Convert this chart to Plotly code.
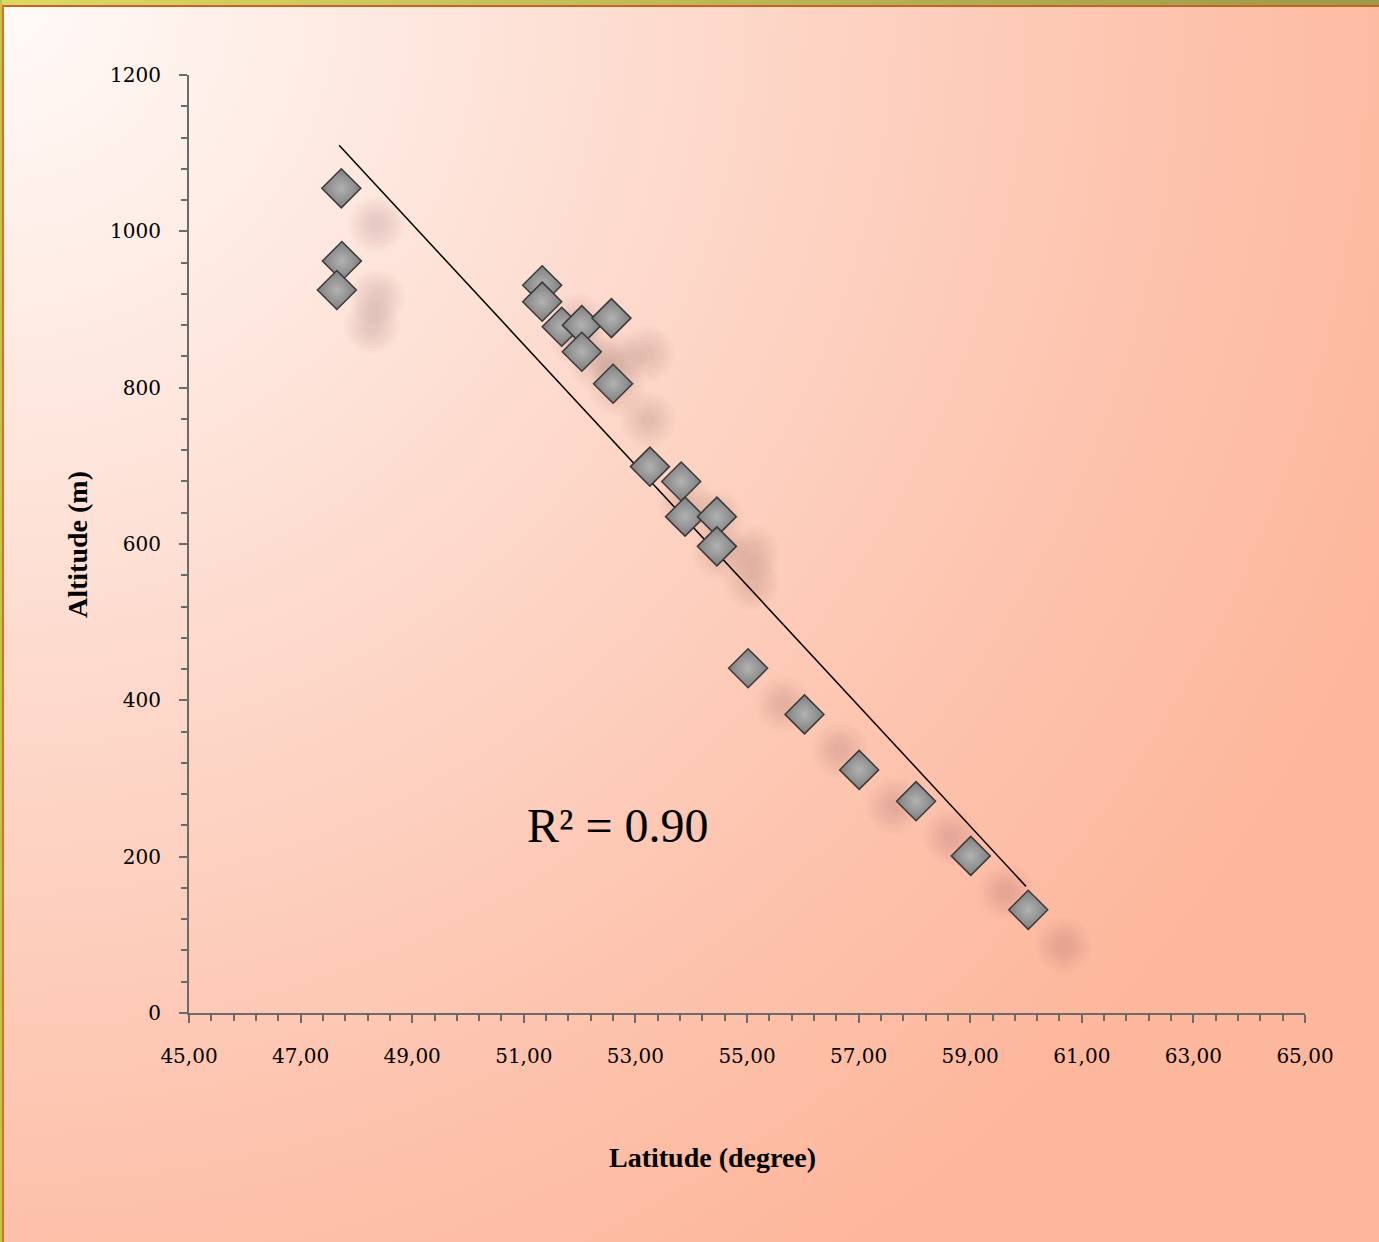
import base64
import numpy as np
import plotly.graph_objects as go

# ---- data ----
latitude = [47.73, 47.74, 47.65, 51.33, 51.33, 51.68, 52.04, 52.57, 52.04, 52.60,
            53.26, 53.82, 53.89, 54.46, 54.46, 55.02, 56.03, 57.01, 58.03, 59.01, 60.04]
altitude = [1055, 962, 925, 931, 910, 878, 880, 889, 846, 805,
            699, 680, 635, 635, 597, 441, 382, 311, 271, 201, 132]
trend_lat = [47.69, 60.0]
trend_alt = [1110, 162]
r2_text = "R² = 0.90"
x_tickvals = [45, 47, 49, 51, 53, 55, 57, 59, 61, 63, 65]
x_ticktext = ["45,00", "47,00", "49,00", "51,00", "53,00", "55,00",
              "57,00", "59,00", "61,00", "63,00", "65,00"]
y_tickvals = [0, 200, 400, 600, 800, 1000, 1200]

W, H = 1379, 1242
ML, MR, MT, MB = 189, 74, 75, 229
PW, PH = W - ML - MR, H - MT - MB

# background gradient + frame as an svg image
svg = f'''<svg xmlns="http://www.w3.org/2000/svg" width="{W}" height="{H}" viewBox="0 0 {W} {H}" preserveAspectRatio="none">
<defs>
<radialGradient id="g" cx="0" cy="0" r="1500" gradientUnits="userSpaceOnUse">
<stop offset="0" stop-color="#fffaf8"/>
<stop offset="0.25" stop-color="#fee9e1"/>
<stop offset="0.55" stop-color="#fdd3c3"/>
<stop offset="0.8" stop-color="#fdc2ac"/>
<stop offset="1" stop-color="#fdb79c"/>
</radialGradient>
<linearGradient id="b" x1="0" y1="0" x2="1" y2="0">
<stop offset="0" stop-color="#dcd862"/>
<stop offset="1" stop-color="#9c9a4a"/>
</linearGradient>
</defs>
<rect x="0" y="0" width="{W}" height="{H}" fill="url(#g)"/>
<rect x="0" y="0" width="{W}" height="5" fill="url(#b)"/>
<rect x="0" y="5" width="{W}" height="2" fill="#c9631f"/>
<rect x="0" y="0" width="2" height="{H}" fill="#c9c050"/>
<rect x="2" y="5" width="2" height="{H}" fill="#d4702a"/>
</svg>'''
src = "data:image/svg+xml;base64," + base64.b64encode(svg.encode()).decode()

fig = go.Figure()

# soft shadows (derived from the data, offset down-right), layered to look blurred
lat_arr = np.array(latitude)
alt_arr = np.array(altitude)
for s in [56, 50, 44, 38, 32, 26, 20, 14]:
    fig.add_trace(go.Scatter(
        x=lat_arr + 0.63, y=alt_arr - 46, mode="markers", hoverinfo="skip",
        marker=dict(symbol="circle", size=s, color="rgba(120,75,65,0.022)",
                    line=dict(width=0)),
        showlegend=False))

# trend line
fig.add_trace(go.Scatter(x=trend_lat, y=trend_alt, mode="lines",
                         line=dict(color="black", width=1.5), showlegend=False))

# data points
fig.add_trace(go.Scatter(
    x=latitude, y=altitude, mode="markers",
    marker=dict(symbol="diamond", size=30, color="#7f7f7f",
                gradient=dict(type="radial", color="#b2b2b2"),
                line=dict(color="#3a3a3a", width=1.5)),
    showlegend=False))

axis_common = dict(showgrid=False, zeroline=False, showline=True, linecolor="#6b6b6b",
                   linewidth=2, ticks="outside", tickcolor="#6b6b6b", tickwidth=2,
                   ticklen=8,
                   tickfont=dict(family="DejaVu Serif", size=20, color="black"))

fig.update_xaxes(range=[45, 65], tickvals=x_tickvals, ticktext=x_ticktext,
                 ticklabelstandoff=16,
                 minor=dict(dtick=0.4, tick0=45, ticks="outside", ticklen=6,
                            tickcolor="#6b6b6b", tickwidth=2),
                 **axis_common)
fig.update_yaxes(range=[0, 1200], tickvals=y_tickvals, ticklabelstandoff=14,
                 minor=dict(dtick=40, tick0=0, ticks="outside", ticklen=6,
                            tickcolor="#6b6b6b", tickwidth=2),
                 **axis_common)

def px_x(p):
    return (p - ML) / PW

def px_y(p):
    return 1 - (p - MT) / PH

fig.add_annotation(x=px_x(712), y=px_y(1157), xref="paper", yref="paper",
                   xanchor="center", yanchor="middle",
                   text="<b>Latitude (degree)</b>", showarrow=False,
                   font=dict(family="Liberation Serif", size=28, color="black"))
fig.add_annotation(x=px_x(77), y=px_y(545), xref="paper", yref="paper",
                   xanchor="center", yanchor="middle",
                   text="<b>Altitude (m)</b>", showarrow=False, textangle=-90,
                   font=dict(family="Liberation Serif", size=28, color="black"))
fig.add_annotation(x=px_x(617), y=px_y(825), xref="paper", yref="paper",
                   xanchor="center", yanchor="middle",
                   text=r2_text, showarrow=False,
                   font=dict(family="Liberation Serif", size=48, color="black"))

fig.add_layout_image(dict(source=src, xref="paper", yref="paper",
                          x=-ML / PW, y=1 + MT / PH, sizex=W / PW, sizey=H / PH,
                          xanchor="left", yanchor="top", sizing="stretch",
                          layer="below"))

fig.update_layout(width=W, height=H, margin=dict(l=ML, r=MR, t=MT, b=MB, pad=0),
                  paper_bgcolor="#fdc8b3", plot_bgcolor="rgba(0,0,0,0)",
                  showlegend=False)

fig.write_html("out.html", config={"displayModeBar": False},
               post_script="document.body.style.margin='0';"
                           "document.body.style.overflow='hidden';")
